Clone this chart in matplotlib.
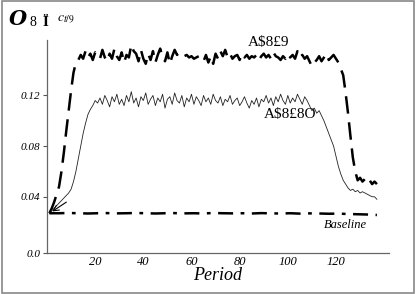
import numpy as np
import matplotlib
matplotlib.use("Agg")
import matplotlib.pyplot as plt
from matplotlib.patches import Rectangle

plt.rcParams['mathtext.fontset'] = 'stix'

# ---- data ----
upper = [0.027, 0.031, 0.036, 0.042, 0.048, 0.060, 0.075, 0.092, 0.108, 0.124, 0.138, 0.146,
         0.148, 0.152, 0.149, 0.155, 0.150, 0.153, 0.148, 0.154, 0.151, 0.149, 0.156, 0.150,
         0.147, 0.153, 0.149, 0.157, 0.151, 0.148, 0.154, 0.146, 0.152, 0.150, 0.160, 0.155,
         0.153, 0.147, 0.156, 0.149, 0.145, 0.153, 0.148, 0.155, 0.146, 0.152, 0.157, 0.150,
         0.147, 0.154, 0.145, 0.151, 0.156, 0.152, 0.154, 0.153, 0.151, 0.152, 0.150, 0.151,
         0.149, 0.150, 0.151, 0.148, 0.147, 0.152, 0.146, 0.151, 0.145, 0.153, 0.149, 0.155,
         0.151, 0.156, 0.150, 0.153, 0.149, 0.151, 0.152, 0.148, 0.153, 0.150, 0.152, 0.149,
         0.151, 0.150, 0.152, 0.148, 0.151, 0.153, 0.150, 0.152, 0.149, 0.154, 0.151, 0.150,
         0.148, 0.151, 0.149, 0.153, 0.150, 0.152, 0.149, 0.155, 0.150, 0.152, 0.149, 0.151,
         0.147, 0.143, 0.146, 0.148, 0.151, 0.147, 0.150, 0.153, 0.148, 0.150, 0.152, 0.149,
         0.146, 0.141, 0.136, 0.122, 0.106, 0.088, 0.071, 0.060, 0.053, 0.055, 0.052, 0.054,
         0.051, 0.053, 0.050, 0.052, 0.050]

lower = [0.027, 0.029, 0.031, 0.033, 0.035, 0.037, 0.039, 0.041, 0.043, 0.046, 0.052, 0.060,
         0.070, 0.080, 0.090, 0.098, 0.105, 0.109, 0.112, 0.116,
         0.114, 0.118, 0.113, 0.120, 0.116, 0.111, 0.119, 0.115, 0.121, 0.113, 0.117, 0.112,
         0.120, 0.115, 0.123, 0.114, 0.118, 0.111, 0.119, 0.116, 0.122, 0.113, 0.117, 0.120,
         0.112, 0.118, 0.115, 0.121, 0.110, 0.117, 0.119, 0.113, 0.122, 0.116, 0.114, 0.120,
         0.111, 0.118, 0.115, 0.121, 0.113, 0.119, 0.116, 0.112, 0.120, 0.115, 0.118, 0.113,
         0.121, 0.116, 0.114, 0.119, 0.112, 0.117, 0.115, 0.120, 0.113, 0.116, 0.118, 0.112,
         0.115, 0.119, 0.114, 0.110, 0.116, 0.113, 0.118, 0.111, 0.117, 0.115, 0.120, 0.114,
         0.118, 0.112, 0.119, 0.115, 0.121, 0.116, 0.113, 0.120, 0.114, 0.118, 0.115, 0.121,
         0.117, 0.113, 0.119, 0.116,
         0.112, 0.108, 0.110, 0.106, 0.108, 0.104, 0.100, 0.095, 0.090, 0.085, 0.080, 0.072,
         0.064, 0.058, 0.053, 0.050, 0.047, 0.045, 0.046, 0.044, 0.045, 0.043, 0.044, 0.043,
         0.042, 0.041, 0.040, 0.040, 0.038]

base_periods = [1, 5, 9, 13, 17, 21, 25, 29, 33, 37, 41, 45, 49, 53, 57, 61, 65, 69, 73, 77,
                81, 85, 89, 93, 97, 101, 105, 109, 113, 117, 121, 125, 129, 133, 137]
baseline = [0.027, 0.027, 0.0272, 0.027, 0.0268, 0.027, 0.0271, 0.0269, 0.027, 0.0272, 0.027,
            0.0268, 0.027, 0.0271, 0.0269, 0.027, 0.0268, 0.0272, 0.027, 0.0269, 0.027, 0.0268,
            0.0271, 0.0269, 0.0268, 0.027, 0.0267, 0.0269, 0.0268, 0.0266, 0.0267, 0.0264,
            0.0262, 0.026, 0.0256]

xticks = [20, 40, 60, 80, 100, 120]
yticks = [0.04, 0.08, 0.12]
ytick_labels = ["0.04", "0.08", "0.12"]

x_up = np.arange(1, len(upper) + 1)
x_lo = np.arange(1, len(lower) + 1)

fig = plt.figure(figsize=(4.16, 2.94), dpi=100)
fig.patches.append(Rectangle((0.004, 0.005), 0.992, 0.99, transform=fig.transFigure,
                             fill=False, edgecolor='#888888', linewidth=1.2))
ax = fig.add_axes([0.113, 0.139, 0.822, 0.725])

ax.plot(x_up, upper, color='black', linewidth=1.8, dashes=(7, 3.5))
ax.plot(x_lo, lower, color='#222222', linewidth=0.6)
ax.plot(base_periods, baseline, color='black', linewidth=1.8, dashes=(6, 3, 1.5, 3))
ax.annotate("", xy=(1.2, 0.0272), xytext=(9, 0.037),
            arrowprops=dict(arrowstyle='->', color='black', lw=0.8))

ax.set_xlim(0, 142)
ax.set_ylim(-0.0045, 0.1638)

serif = 'Liberation Serif'
ax.set_xticks(xticks)
ax.set_xticklabels([str(t) for t in xticks], family=serif, style='italic', fontsize=9)
ax.set_yticks([-0.0045] + yticks)
ax.set_yticklabels(["0.0"] + ytick_labels, family=serif, style='italic', fontsize=8)
ax.tick_params(axis='x', length=0, pad=2)
ax.tick_params(axis='y', length=3, width=0.8, color='#555555', pad=2)
for s in ['top', 'right']:
    ax.spines[s].set_visible(False)
for s in ['left', 'bottom']:
    ax.spines[s].set_color('#666666')
    ax.spines[s].set_linewidth(0.9)

ax.set_xlabel("Period", family=serif, style='italic', fontsize=13, labelpad=-1)

ax.text(92, 0.162, "A\\$8£9", family=serif, fontsize=11, ha='center', va='center')
ax.text(101, 0.105, "A\\$8£8O", family=serif, fontsize=11, ha='center', va='center')
ax.text(124, 0.018, "Baseline", family=serif, style='italic', fontsize=9, ha='center', va='center')

fig.text(0.022, 0.935, "O", family='DejaVu Serif', weight='bold', style='italic', fontsize=15,
         ha='left', va='center')
fig.text(0.072, 0.925, "8", family=serif, fontsize=10, ha='left', va='center')
fig.text(0.102, 0.925, "Ï", family=serif, weight='bold', fontsize=11, ha='left', va='center')
fig.text(0.138, 0.935, "$c_{t/9}$", fontsize=10, ha='left', va='center')

fig.savefig("out.png", dpi=100)
